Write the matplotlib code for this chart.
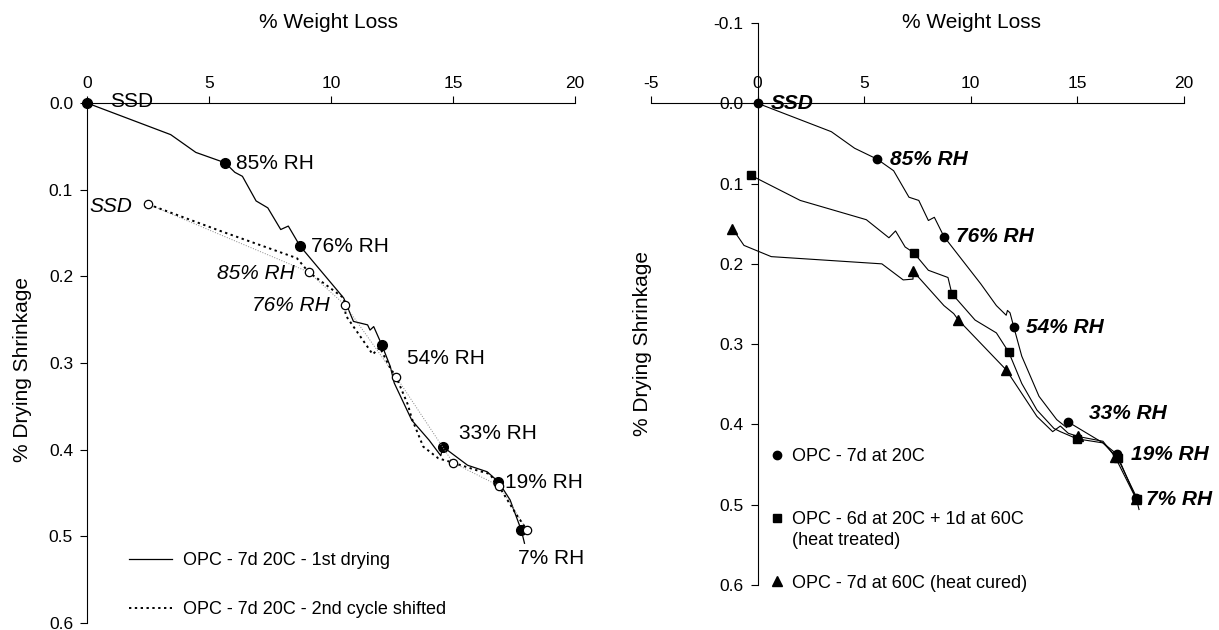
import matplotlib
matplotlib.use("Agg")
import matplotlib.pyplot as plt

plt.rcParams['font.family'] = ['Liberation Sans', 'DejaVu Sans']
plt.rcParams['axes.unicode_minus'] = False

# ---- left panel data ----
# 1st drying, 7d 20C
first_x = [0, 3.43, 4.46, 5.66, 6.06, 6.37, 6.93, 7.41, 7.94, 8.25, 8.73, 10.52, 10.92,
           11.5, 11.6, 11.75, 12.08, 12.43, 12.59, 13.31, 14.02, 14.5, 14.58, 15.6, 16.4,
           16.86, 17.34, 17.8, 17.93]
first_y = [0, 0.0365, 0.057, 0.069, 0.080, 0.0846, 0.113, 0.121, 0.146, 0.142, 0.165, 0.225, 0.252,
           0.256, 0.262, 0.258, 0.279, 0.304, 0.323, 0.366, 0.389, 0.407, 0.3965, 0.418, 0.4255,
           0.437, 0.458, 0.493, 0.508]
first_rh_x = [0, 5.66, 8.73, 12.08, 14.58, 16.86, 17.8]
first_rh_y = [0, 0.069, 0.165, 0.279, 0.3965, 0.437, 0.493]
first_rh_lab = ["SSD", "85% RH", "76% RH", "54% RH", "33% RH", "19% RH", "7% RH"]

# 2nd cycle shifted
second_x = [2.52, 5.5, 8.6, 9.08, 10.52, 10.57, 10.6, 11.71, 12.0, 12.43, 12.67, 13.15, 13.31,
            13.78, 14.4, 15.0, 16.0, 16.5, 16.9, 17.6, 18.04]
second_y = [0.117, 0.148, 0.179, 0.195, 0.225, 0.233, 0.245, 0.29, 0.282, 0.306, 0.316, 0.348, 0.364,
            0.3965, 0.41, 0.415, 0.424, 0.428, 0.443, 0.475, 0.493]
second_rh_x = [2.52, 9.08, 10.57, 12.67, 15.0, 16.9, 18.04]
second_rh_y = [0.117, 0.195, 0.233, 0.316, 0.415, 0.442, 0.493]

# ---- right panel data ----
a_x = [0, 3.46, 4.55, 5.61, 6.38, 7.1, 7.56, 8.01, 8.29, 8.74, 10.47, 11.2, 11.66, 11.72, 11.84,
       12.02, 12.39, 13.2, 14.03, 14.5, 14.57, 16.2, 16.85, 17.5, 17.76, 17.89]
a_y = [0, 0.0354, 0.056, 0.0696, 0.084, 0.117, 0.121, 0.146, 0.142, 0.166, 0.225, 0.252, 0.264, 0.258, 0.261,
       0.279, 0.315, 0.365, 0.394, 0.404, 0.397, 0.423, 0.437, 0.477, 0.492, 0.506]
a_mx = [0, 5.61, 8.74, 12.02, 14.57, 16.85, 17.76]
a_my = [0, 0.0696, 0.166, 0.279, 0.397, 0.437, 0.492]

b_x = [-0.33, 0, 2.0, 5.1, 6.16, 6.47, 6.92, 7.32, 8.01, 8.93, 9.11, 10.2, 11.2, 11.78, 12.39,
       13.1, 13.9, 14.2, 14.99, 16.2, 16.89, 17.76, 17.8]
b_y = [0.0896, 0.094, 0.121, 0.145, 0.1675, 0.159, 0.179, 0.186, 0.208, 0.217, 0.237, 0.27, 0.286, 0.31, 0.349,
       0.382, 0.405, 0.409, 0.418, 0.423, 0.442, 0.49, 0.493]
b_mx = [-0.33, 7.32, 9.11, 11.78, 14.99, 16.89, 17.8]
b_my = [0.0896, 0.186, 0.237, 0.31, 0.418, 0.442, 0.493]

c_x = [-1.18, -0.64, 0.64, 5.83, 6.83, 7.29, 7.29, 8.74, 9.2, 9.42, 11.66, 13.1, 13.84, 14.2,
       14.57, 15.03, 16.2, 16.76, 17.76]
c_y = [0.156, 0.177, 0.191, 0.2, 0.22, 0.219, 0.209, 0.252, 0.262, 0.27, 0.332, 0.39, 0.409, 0.402,
       0.411, 0.415, 0.421, 0.44, 0.493]
c_mx = [-1.18, 7.29, 9.42, 11.66, 15.03, 16.76, 17.76]
c_my = [0.156, 0.209, 0.27, 0.332, 0.415, 0.44, 0.493]

right_lab = ["SSD", "85% RH", "76% RH", "54% RH", "33% RH", "19% RH", "7% RH"]
right_lab_x = [0.6, 6.2, 9.3, 12.6, 15.55, 17.5, 18.2]
right_lab_y = [0.0, 0.07, 0.166, 0.279, 0.386, 0.437, 0.493]

fig = plt.figure(figsize=(12.19, 6.30), dpi=100)

# ================= left =================
ax = fig.add_axes([87 / 1219, 1 - 623 / 630, 488 / 1219, 520 / 630])
ax.plot(first_x, first_y, color='black', lw=0.9, label='OPC - 7d 20C - 1st drying')
ax.plot(first_rh_x, first_rh_y, 'o', color='black', ms=7, clip_on=False)
ax.plot(second_rh_x, second_rh_y, ':', color='#888888', lw=0.7)
ax.plot(second_x, second_y, color='black', lw=1.4, ls=(0, (1.2, 1.8)),
        label='OPC - 7d 20C - 2nd cycle shifted')
ax.plot(second_rh_x, second_rh_y, 'o', mfc='white', mec='black', ms=6, mew=0.9)

ax.set_xlim(0, 20)
ax.set_ylim(0.6, 0)
for s in ['right', 'bottom']:
    ax.spines[s].set_visible(False)
ax.xaxis.tick_top()
ax.set_xticks([0, 5, 10, 15, 20])
ax.set_yticks([0.0, 0.1, 0.2, 0.3, 0.4, 0.5, 0.6])
ax.set_yticklabels(['0.0', '0.1', '0.2', '0.3', '0.4', '0.5', '0.6'])
ax.tick_params(axis='x', direction='out', length=5, pad=3.5, labelsize=12.5)
ax.tick_params(axis='y', direction='out', length=5, pad=5, labelsize=12.5)
ax.patch.set_visible(False)

ax.text(0.95, 0.009, "SSD", fontsize=15, ha='left', va='bottom')
lab_pos = [(6.1, 0.07), (9.2, 0.166), (13.1, 0.295), (15.25, 0.381), (17.15, 0.438), (17.65, 0.525)]
for (tx, ty), t in zip(lab_pos, first_rh_lab[1:]):
    ax.text(tx, ty, t, fontsize=15, ha='left', va='center')
ax.text(0.08, 0.119, "SSD", fontsize=15, style='italic', ha='left', va='center')
ax.text(8.5, 0.197, "85% RH", fontsize=15, style='italic', ha='right', va='center')
ax.text(9.95, 0.234, "76% RH", fontsize=15, style='italic', ha='right', va='center')

ax.legend(loc='center left', bbox_to_anchor=(0.053, 0.073), frameon=False, fontsize=13,
          handlelength=2.4, handletextpad=0.6, labelspacing=1.75)

# ================= right =================
ax2 = fig.add_axes([651 / 1219, 1 - 585 / 630, 533 / 1219, 562 / 630])
ax2.plot(a_x, a_y, color='black', lw=0.8)
ax2.plot(b_x, b_y, color='black', lw=0.8)
ax2.plot(c_x, c_y, color='black', lw=0.8)
ax2.plot(a_mx, a_my, 'o', color='black', ms=6, label='OPC - 7d at 20C', clip_on=False)
ax2.plot(b_mx, b_my, 's', color='black', ms=6, label='OPC - 6d at 20C + 1d at 60C')
ax2.plot(c_mx, c_my, '^', color='black', ms=6.5, label='OPC - 7d at 60C (heat cured)')

ax2.set_xlim(-5, 20)
ax2.set_ylim(0.6, -0.1)
ax2.spines['right'].set_visible(False)
ax2.spines['bottom'].set_visible(False)
ax2.spines['left'].set_position(('data', 0))
ax2.spines['top'].set_position(('data', 0))
ax2.xaxis.tick_top()
ax2.set_xticks([-5, 0, 5, 10, 15, 20])
ax2.set_yticks([-0.1, 0.0, 0.1, 0.2, 0.3, 0.4, 0.5, 0.6])
ax2.set_yticklabels(['-0.1', '0.0', '0.1', '0.2', '0.3', '0.4', '0.5', '0.6'])
ax2.tick_params(axis='x', direction='out', length=5, pad=3.5, labelsize=12.5)
ax2.tick_params(axis='y', direction='out', length=5, pad=5, labelsize=12.5)
ax2.patch.set_visible(False)

for tx, ty, t in zip(right_lab_x, right_lab_y, right_lab):
    ax2.text(tx, ty, t, fontsize=15, style='italic', weight='bold', ha='left', va='center')

ax2.legend(loc='center left', bbox_to_anchor=(0.193, 0.1157), frameon=False, fontsize=13,
           handlelength=0.8, handletextpad=0.4, labelspacing=2.55)
# second line of the middle legend entry
ax2.text(0.2645, 0.080, "(heat treated)", fontsize=13, ha='left', va='center',
         transform=ax2.transAxes)

# axis titles
fig.text(329 / 1219, 1 - 22 / 630, "% Weight Loss", fontsize=15, ha='center', va='center')
fig.text(971 / 1219, 1 - 22 / 630, "% Weight Loss", fontsize=15, ha='center', va='center')
fig.text(22 / 1219, 1 - 370 / 630, "% Drying Shrinkage", fontsize=15, rotation=90,
         ha='center', va='center')
fig.text(642 / 1219, 1 - 344 / 630, "% Drying Shrinkage", fontsize=15, rotation=90,
         ha='center', va='center')

fig.savefig("out.png", dpi=100)
